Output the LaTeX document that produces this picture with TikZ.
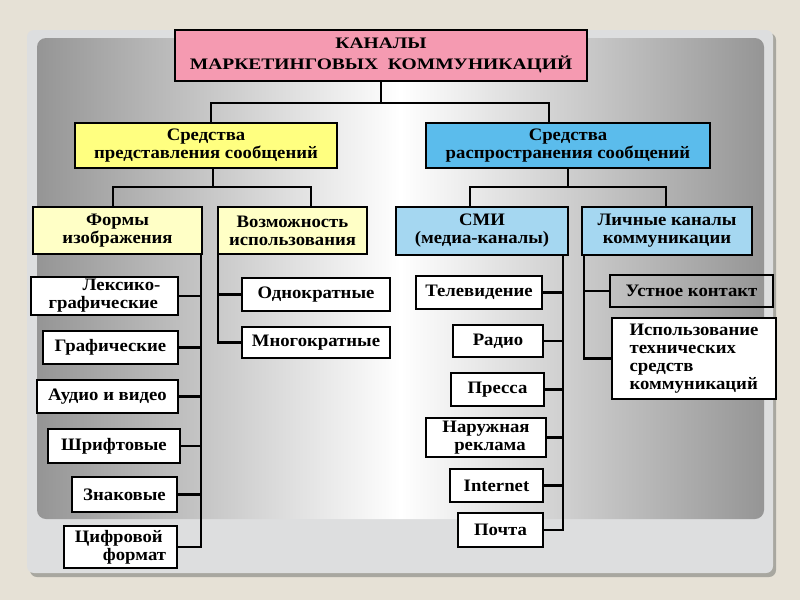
\documentclass[tikz,border=0pt]{standalone}
\usepackage{fontspec}
\setmainfont{Liberation Serif}[FakeStretch=1.07]
\newfontfamily\titlefont{Liberation Serif}[FakeStretch=1.22]
\usetikzlibrary{positioning,calc}
\definecolor{PageBeige}{HTML}{E6E1D6}
\definecolor{PanelGray}{HTML}{DDDEDF}
\definecolor{PanelShadow}{HTML}{A8A7A0}
\definecolor{InnerGray}{HTML}{959595}
\definecolor{TitlePink}{HTML}{F59AB1}
\definecolor{ShowYellow}{HTML}{FFFF80}
\definecolor{SpreadBlue}{HTML}{5BBCEC}
\definecolor{PaleYellow}{HTML}{FFFFC6}
\definecolor{PaleBlue}{HTML}{A5D7F1}
\tikzset{box/.style={draw=black,line width=2.4pt,fill=white,align=center,inner sep=0pt,font=\fontsize{17.5}{18}\selectfont\bfseries},
  sz/.style 2 args={minimum width=#1pt,minimum height=#2pt},
  link/.style={line width=2.8pt,black}}

\begin{document}
\begin{tikzpicture}[x=1pt,y=-1pt]
\useasboundingbox (0,0) rectangle (800,600);
\fill[PageBeige] (0,0) rectangle (800,600);
% panels
\fill[PanelShadow,rounded corners=7pt] (30,33) rectangle (776,577);
\fill[PanelGray,rounded corners=7pt] (27,30) rectangle (773,573);
\shade[rounded corners=9pt,left color=InnerGray,right color=InnerGray,middle color=white] (37,38) rectangle (764,519);
% top levels
\node[box,sz={412}{51},fill=TitlePink,line width=2pt,font=\titlefont\fontsize{16}{21}\selectfont\bfseries] (top) at (381,55.5) {КАНАЛЫ\\МАРКЕТИНГОВЫХ\ \ КОММУНИКАЦИЙ};
\node[box,sz={262}{45},fill=ShowYellow] (pres) at (206,145.5) {Средства\\представления сообщений};
\node[box,sz={284}{45},fill=SpreadBlue] (dist) at (568,145.5) {Средства\\распространения сообщений};
\node[box,sz={169}{47},fill=PaleYellow] (forms) at (117.5,230.5) {Формы\\изображения};
\node[box,sz={149}{47},fill=PaleYellow] (usage) at (292.5,230.5) {Возможность\\использования};
\node[box,sz={172}{48},fill=PaleBlue] (media) at (482,231) {СМИ\\(медиа-каналы)};
\node[box,sz={170}{48},fill=PaleBlue] (personal) at (667,231) {Личные каналы\\коммуникации};
% forms
\node[box,sz={147}{38},align=left] (lex) at (104.5,296) {\hspace*{34pt}Лексико-\\графические};
\node[box,sz={135}{33}] (graph) at (110.5,347.5) {Графические};
\node[box,sz={141}{33}] (audio) at (107.5,396.5) {Аудио и видео};
\node[box,sz={132}{34}] (fonts) at (114,446) {Шрифтовые};
\node[box,sz={105}{35}] (sign) at (124.5,494.5) {Знаковые};
\node[box,sz={113}{42},align=left] (digit) at (120.5,547) {Цифровой\\\hspace*{28pt}формат};
% usage
\node[box,sz={148}{33}] (once) at (316,294.5) {Однократные};
\node[box,sz={148}{31}] (multi) at (316,342.5) {Многократные};
% media
\node[box,sz={126}{33}] (tv) at (479,292.5) {Телевидение};
\node[box,sz={90}{32}] (radio) at (498,341) {Радио};
\node[box,sz={93}{33}] (press) at (497.5,389.5) {Пресса};
\node[box,sz={120}{39}] (outdoor) at (486,437.5) {Наружная\\\hspace*{8pt}реклама};
\node[box,sz={93}{33}] (inet) at (496.5,485.5) {Internet};
\node[box,sz={85}{34}] (mail) at (500.5,530) {Почта};
% personal
\node[box,sz={163}{32},fill=none] (oral) at (691.5,291) {Устное контакт};
\node[box,sz={164}{81},align=left] (tech) at (694,358.5) {Использование\\технических\\средств\\коммуникаций};
% connectors
\coordinate (b1l) at (211,103); \coordinate (b1r) at (549,103);
\draw[link] (top.south) -- (top.south |- b1l);
\draw[link] (pres.north -| b1l) |- (b1r) -- (dist.north -| b1r);
\coordinate (b2m) at (213,187); \coordinate (b2l) at (113,187); \coordinate (b2r) at (311,187);
\draw[link] (pres.south -| b2m) -- (b2m);
\draw[link] (forms.north -| b2l) |- (b2r) -- (usage.north -| b2r);
\coordinate (b3l) at (470,187); \coordinate (b3r) at (666,187);
\draw[link] (dist.south) -- (dist.south |- b3l);
\draw[link] (media.north -| b3l) |- (b3r) -- (personal.north -| b3r);
\coordinate (fsp) at (201,0);
\draw[link] (forms.south -| fsp) |- (digit.east);
\foreach \n in {lex,graph,audio,fonts,sign} \draw[link] (\n.east) -- (\n.east -| fsp);
\coordinate (usp) at (218,0);
\draw[link] (usage.south -| usp) |- (multi.west);
\draw[link] (once.west) -- (once.west -| usp);
\coordinate (msp) at (563,0);
\draw[link] (media.south -| msp) |- (mail.east);
\foreach \n in {tv,radio,press,outdoor,inet} \draw[link] (\n.east) -- (\n.east -| msp);
\coordinate (psp) at (584,0);
\draw[link] (personal.south -| psp) |- (tech.west);
\draw[link] (oral.west) -- (oral.west -| psp);
\end{tikzpicture}
\end{document}
